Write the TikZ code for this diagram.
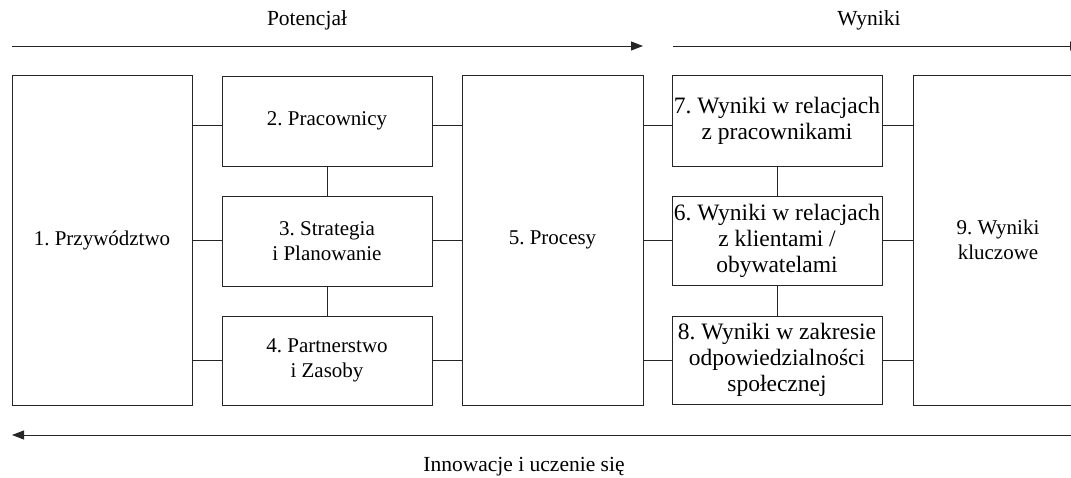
\documentclass[tikz,border=0pt]{standalone}
\usepackage{fontspec}
\setmainfont{Liberation Serif}
\newfontfamily\tnrfont{Liberation Serif}
\frenchspacing
\usetikzlibrary{arrows.meta}
\begin{document}
\begin{tikzpicture}[x=1pt,y=-1pt,
  box/.style={draw=black!85,line width=0.9pt,inner sep=0pt,align=center,
    font=\tnrfont\fontsize{21}{25.5}\selectfont},
  bigbox/.style={box,font=\tnrfont\fontsize{23.5}{26}\selectfont},
  conn/.style={draw=black!85,line width=0.9pt},
  flow/.style={draw=black!85,line width=0.9pt,-{Triangle[length=12pt,width=9pt]}},
  lbl/.style={font=\tnrfont\fontsize{21.5}{25}\selectfont,inner sep=0pt}]
\useasboundingbox (0,0) rectangle (1071,478);
\clip (0,0) rectangle (1071,478);
% boxes
\node[box,minimum width=180,minimum height=330] (b1) at (102,240) {1. Przywództwo};
\node[box,minimum width=210,minimum height=90] (b2) at (327,121) {2. Pracownicy};
\node[box,minimum width=210,minimum height=90] (b3) at (327,241) {3. Strategia\\i Planowanie};
\node[box,minimum width=210,minimum height=89] (b4) at (327,360.5) {4. Partnerstwo\\i Zasoby};
\node[box,minimum width=181,minimum height=330] (b5) at (552.5,240) {5. Procesy};
\node[bigbox,minimum width=210,minimum height=91] (b7) at (777,120.5) {7. Wyniki w relacjach\\z pracownikami};
\node[bigbox,minimum width=210,minimum height=89] (b6) at (777,240.5) {6. Wyniki w relacjach\\z klientami /\\obywatelami};
\node[bigbox,minimum width=210,minimum height=88] (b8) at (777,360) {8. Wyniki w zakresie\\odpowiedzialności\\społecznej};
\node[box,minimum width=170,minimum height=330] (b9) at (998,240) {9. Wyniki\\kluczowe};
% horizontal connectors
\draw[conn] (b1.east |- 0,125) -- (b2.west |- 0,125);
\draw[conn] (b1.east |- 0,240) -- (b3.west |- 0,240);
\draw[conn] (b1.east |- 0,360) -- (b4.west |- 0,360);
\draw[conn] (b2.east |- 0,125) -- (b5.west |- 0,125);
\draw[conn] (b3.east |- 0,240) -- (b5.west |- 0,240);
\draw[conn] (b4.east |- 0,360) -- (b5.west |- 0,360);
\draw[conn] (b5.east |- 0,125) -- (b7.west |- 0,125);
\draw[conn] (b5.east |- 0,240) -- (b6.west |- 0,240);
\draw[conn] (b5.east |- 0,360) -- (b8.west |- 0,360);
\draw[conn] (b7.east |- 0,125) -- (b9.west |- 0,125);
\draw[conn] (b6.east |- 0,240) -- (b9.west |- 0,240);
\draw[conn] (b8.east |- 0,360) -- (b9.west |- 0,360);
% vertical connectors
\draw[conn] (b2) -- (b3);
\draw[conn] (b3) -- (b4);
\draw[conn] (b7) -- (b6);
\draw[conn] (b6) -- (b8);
% top and bottom arrows
\coordinate (p1) at (12,46);
\coordinate (p2) at (643,46);
\coordinate (w1) at (673,46);
\coordinate (w2) at (1082,46);
\coordinate (i1) at (1075,435);
\coordinate (i2) at (12,435);
\draw[flow] (p1) -- (p2);
\draw[flow] (w1) -- (w2);
\draw[flow] (i1) -- (i2);
\node[lbl] (tp) at (307,20) {Potencjał};
\node[lbl] (tw) at (869,20) {Wyniki};
\node[lbl] (ti) at (524,467) {Innowacje i uczenie się};
\end{tikzpicture}
\end{document}
